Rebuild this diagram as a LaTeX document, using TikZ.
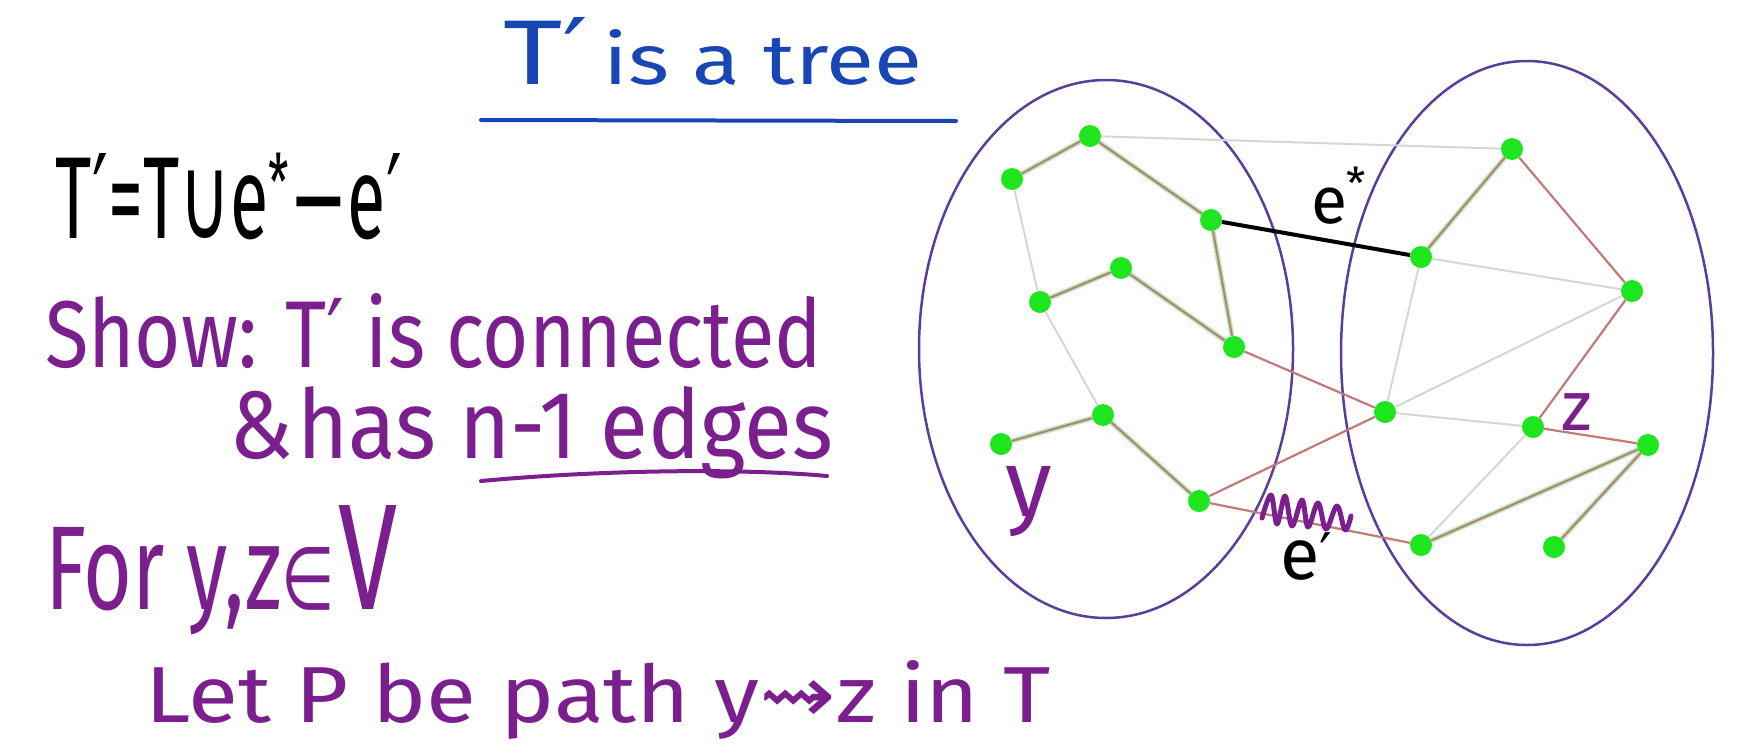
\documentclass[tikz,border=0pt]{standalone}
\usepackage{fontspec}
\usepackage{graphicx}
\setmainfont{Fira Sans}
\newfontfamily\sym{DejaVu Sans}
\definecolor{hpurple}{HTML}{7B1F8E}
\definecolor{hblue}{HTML}{1846B4}
\definecolor{ellc}{HTML}{5A3E9A}
\definecolor{treered}{HTML}{BF7A7A}
\definecolor{halo}{HTML}{7EE07E}
\definecolor{grayedge}{HTML}{D6D6D6}
\definecolor{dotgreen}{HTML}{1EE61E}
\tikzset{
  vtx/.style={circle, fill=dotgreen, draw=none, inner sep=0pt, minimum size=22pt},
  tg/.style={draw=treered, line width=2pt, preaction={draw=halo, line width=5pt, opacity=0.6}},
  tr/.style={draw=treered, line width=2.2pt},
  ge/.style={draw=grayedge, line width=2pt},
  blob/.style={draw=ellc, line width=2.5pt},
  txt/.style={anchor=base west, inner sep=0pt, outer sep=0pt},
}
\begin{document}
\begin{tikzpicture}[x=1pt,y=-1pt]
\useasboundingbox (0,0) rectangle (1753,753);
\fill[white] (0,0) rectangle (1753,753);

% texts
\node[txt, text=hblue] (title) at (503,84)
  {\resizebox{419pt}{67pt}{{\fontsize{60}{60}\selectfont T{\sym′}}\kern8pt{\fontsize{46}{46}\selectfont is a tree}}};
\draw[hblue, line width=4pt, line cap=round] (481,120) -- (956,121);

\node[txt, text=black] (def) at (56,238)
  {\resizebox{346pt}{85pt}{\fontsize{60}{60}\selectfont T{\sym′}=T{\sym∪}e\raisebox{14pt}{\fontsize{40}{40}\selectfont *}{\sym−}e{\sym′}}};

\node[txt, text=hpurple] (show) at (45,367)
  {\resizebox{777pt}{74pt}{\fontsize{60}{60}\selectfont Show: T{\sym′} is connected}};

\node[txt, text=hpurple] (has) at (229,458)
  {\resizebox{604pt}{72pt}{\fontsize{60}{60}\selectfont \&\kern3pt has n-1 edges}};
\draw[hpurple, line width=4pt, line cap=round] (481,481) .. controls (600,470) and (740,468) .. (827,476);

\node[txt, text=hpurple] (for) at (45,609)
  {\resizebox{352pt}{104pt}{\fontsize{60}{60}\selectfont For y,z{\sym\fontsize{44}{44}\selectfont ∈}\kern2pt{\fontsize{76}{76}\selectfont V}}};

\node[txt, text=hpurple] (let) at (145,722)
  {\resizebox{906pt}{62pt}{\fontsize{60}{60}\selectfont Let P be path y{\sym⇝}z in T}};

% sets
\draw[blob] (1106,349) ellipse [x radius=187, y radius=269];
\draw[blob] (1527,353) ellipse [x radius=186, y radius=292];

% vertices left
\node[vtx] (A) at (1090,136) {};
\node[vtx] (B) at (1012,179) {};
\node[vtx] (C) at (1211,220) {};
\node[vtx] (D) at (1121,268) {};
\node[vtx] (E) at (1040,302) {};
\node[vtx] (F) at (1234,347) {};
\node[vtx] (G) at (1103,415) {};
\node[vtx] (H) at (1001,444) {};
\node[vtx] (I) at (1199,501) {};
% vertices right
\node[vtx] (J) at (1512,149) {};
\node[vtx] (K) at (1421,257) {};
\node[vtx] (L) at (1632,291) {};
\node[vtx] (M) at (1385,412) {};
\node[vtx] (N) at (1533,427) {};
\node[vtx] (O) at (1648,445) {};
\node[vtx] (P) at (1421,545) {};
\node[vtx] (Q) at (1554,547) {};

% edges
\foreach \u/\v in {A/J, B/E, E/G, K/L, K/M, M/L, M/N, N/P}
  \draw[ge] (\u) -- (\v);
\foreach \u/\v in {B/A, A/C, C/F, E/D, D/F, H/G, G/I, J/K, O/P, O/Q}
  \draw[tg] (\u) -- (\v);
\foreach \u/\v in {F/M, I/M, I/P, J/L, L/N, N/O}
  \draw[tr] (\u) -- (\v);
\draw[black, line width=4pt] (C) -- (K);

% labels
\node[txt, text=black] (estar) at (1311,223)
  {\fontsize{66}{66}\selectfont e\raisebox{24pt}{\fontsize{44}{44}\selectfont *}};
\node[txt, text=black] (eprime) at (1280,579)
  {\fontsize{72}{72}\selectfont e\raisebox{6pt}{\sym\fontsize{56}{56}\selectfont ′}};
\node[txt, text=hpurple] (zlab) at (1561,430)
  {\fontsize{70}{70}\selectfont z};
\node[txt, text=hpurple] (ylab) at (1005,516)
  {\fontsize{95}{95}\selectfont y};
\draw[hpurple, line width=5pt, line cap=round, line join=round]
  plot[smooth, tension=0.6] coordinates {(1262,518) (1271,495) (1277,524) (1285,496) (1292,526) (1302,500) (1308,527) (1318,503) (1326,529) (1337,506) (1345,530) (1351,516)};
\end{tikzpicture}
\end{document}
